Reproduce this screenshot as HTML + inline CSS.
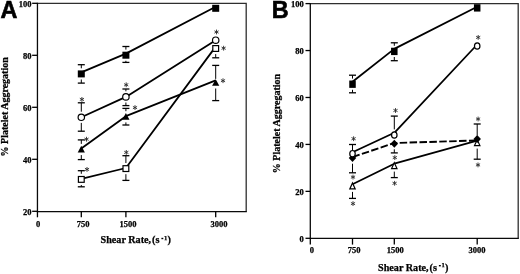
<!DOCTYPE html>
<html><head><meta charset="utf-8"><style>
html,body{margin:0;padding:0;background:#fff;}
body{width:520px;height:274px;overflow:hidden;}
svg{display:block;will-change:transform;}
</style></head><body>
<svg width="520" height="274" viewBox="0 0 520 274" shape-rendering="geometricPrecision">
<rect width="520" height="274" fill="#fff"/>
<path d="M37.45,3.30H246.20V211.60" fill="none" stroke="#2e2e2e" stroke-width="1.3" stroke-linejoin="miter"/>
<path d="M37.45,2.65V211.60H246.85" fill="none" stroke="#0a0a0a" stroke-width="1.3" stroke-linejoin="miter"/>
<line x1="32.15" y1="211.30" x2="37.45" y2="211.30" stroke="#000" stroke-width="1.3" stroke-linecap="butt"/>
<text x="31.55" y="215.20" font-family="Liberation Serif, serif" font-weight="bold" font-size="8.5" text-anchor="end" stroke="#000" stroke-width="0.25">20</text>
<line x1="32.15" y1="159.30" x2="37.45" y2="159.30" stroke="#000" stroke-width="1.3" stroke-linecap="butt"/>
<text x="31.55" y="163.20" font-family="Liberation Serif, serif" font-weight="bold" font-size="8.5" text-anchor="end" stroke="#000" stroke-width="0.25">40</text>
<line x1="32.15" y1="107.30" x2="37.45" y2="107.30" stroke="#000" stroke-width="1.3" stroke-linecap="butt"/>
<text x="31.55" y="111.20" font-family="Liberation Serif, serif" font-weight="bold" font-size="8.5" text-anchor="end" stroke="#000" stroke-width="0.25">60</text>
<line x1="32.15" y1="55.30" x2="37.45" y2="55.30" stroke="#000" stroke-width="1.3" stroke-linecap="butt"/>
<text x="31.55" y="59.20" font-family="Liberation Serif, serif" font-weight="bold" font-size="8.5" text-anchor="end" stroke="#000" stroke-width="0.25">80</text>
<line x1="32.15" y1="3.30" x2="37.45" y2="3.30" stroke="#000" stroke-width="1.3" stroke-linecap="butt"/>
<text x="31.55" y="6.50" font-family="Liberation Serif, serif" font-weight="bold" font-size="8.5" text-anchor="end" stroke="#000" stroke-width="0.25">100</text>
<line x1="37.45" y1="211.30" x2="37.45" y2="217.30" stroke="#000" stroke-width="1.3" stroke-linecap="butt"/>
<text x="38.20" y="226.90" font-family="Liberation Serif, serif" font-weight="bold" font-size="8.5" text-anchor="middle" stroke="#000" stroke-width="0.25">0</text>
<line x1="81.30" y1="211.30" x2="81.30" y2="217.30" stroke="#000" stroke-width="1.3" stroke-linecap="butt"/>
<text x="83.20" y="226.90" font-family="Liberation Serif, serif" font-weight="bold" font-size="8.5" text-anchor="middle" stroke="#000" stroke-width="0.25">750</text>
<line x1="125.90" y1="211.30" x2="125.90" y2="217.30" stroke="#000" stroke-width="1.3" stroke-linecap="butt"/>
<text x="128.00" y="226.90" font-family="Liberation Serif, serif" font-weight="bold" font-size="8.5" text-anchor="middle" stroke="#000" stroke-width="0.25">1500</text>
<line x1="215.70" y1="211.30" x2="215.70" y2="217.30" stroke="#000" stroke-width="1.3" stroke-linecap="butt"/>
<text x="218.90" y="226.90" font-family="Liberation Serif, serif" font-weight="bold" font-size="8.5" text-anchor="middle" stroke="#000" stroke-width="0.25">3000</text>
<text x="100.60" y="243.40" font-family="Liberation Serif, serif" font-weight="bold" stroke="#000" stroke-width="0.25" font-size="10.15">Shear Rate,</text>
<text x="152.10" y="243.40" font-family="Liberation Serif, serif" font-weight="bold" stroke="#000" stroke-width="0.25" font-size="10.3">(s</text>
<rect x="161.40" y="237.80" width="1.9" height="1.4" fill="#000"/>
<text x="164.10" y="239.70" font-family="Liberation Serif, serif" font-weight="bold" stroke="#000" stroke-width="0.25" font-size="6.6">1</text>
<text x="167.50" y="243.40" font-family="Liberation Serif, serif" font-weight="bold" stroke="#000" stroke-width="0.25" font-size="10.3">)</text>
<text transform="translate(8.3,106.85) rotate(-90)" font-family="Liberation Serif, serif" font-weight="bold" font-size="10.0" text-anchor="middle" stroke="#000" stroke-width="0.25">% Platelet Aggregation</text>
<text x="0.4" y="18.1" font-family="Liberation Sans, sans-serif" font-weight="bold" font-size="23.4" stroke="#000" stroke-width="0.6">A</text>
<polyline points="81.30,72.40 125.90,53.60 215.70,6.80" fill="none" stroke="#000" stroke-width="1.8" stroke-linejoin="round"/>
<polyline points="81.30,117.30 125.90,96.90 215.70,40.20" fill="none" stroke="#000" stroke-width="1.8" stroke-linejoin="round"/>
<polyline points="81.30,148.60 125.90,116.20 215.70,80.40" fill="none" stroke="#000" stroke-width="1.8" stroke-linejoin="round"/>
<polyline points="81.30,178.80 125.90,168.00 215.70,46.60" fill="none" stroke="#000" stroke-width="1.8" stroke-linejoin="round"/>
<line x1="81.30" y1="68.30" x2="81.30" y2="64.70" stroke="#000" stroke-width="1.0" stroke-linecap="butt"/>
<line x1="77.80" y1="64.70" x2="84.80" y2="64.70" stroke="#000" stroke-width="1.3" stroke-linecap="butt"/>
<line x1="81.30" y1="79.50" x2="81.30" y2="83.10" stroke="#000" stroke-width="1.0" stroke-linecap="butt"/>
<line x1="77.80" y1="83.10" x2="84.80" y2="83.10" stroke="#000" stroke-width="1.3" stroke-linecap="butt"/>
<line x1="125.90" y1="49.60" x2="125.90" y2="46.50" stroke="#000" stroke-width="1.0" stroke-linecap="butt"/>
<line x1="122.40" y1="46.50" x2="129.40" y2="46.50" stroke="#000" stroke-width="1.3" stroke-linecap="butt"/>
<line x1="125.90" y1="60.80" x2="125.90" y2="62.40" stroke="#000" stroke-width="1.0" stroke-linecap="butt"/>
<line x1="122.40" y1="62.40" x2="129.40" y2="62.40" stroke="#000" stroke-width="1.3" stroke-linecap="butt"/>
<line x1="81.30" y1="111.70" x2="81.30" y2="102.80" stroke="#000" stroke-width="1.0" stroke-linecap="butt"/>
<line x1="77.80" y1="102.80" x2="84.80" y2="102.80" stroke="#000" stroke-width="1.3" stroke-linecap="butt"/>
<line x1="81.30" y1="122.90" x2="81.30" y2="131.20" stroke="#000" stroke-width="1.0" stroke-linecap="butt"/>
<line x1="77.80" y1="131.20" x2="84.80" y2="131.20" stroke="#000" stroke-width="1.3" stroke-linecap="butt"/>
<line x1="125.90" y1="91.30" x2="125.90" y2="89.00" stroke="#000" stroke-width="1.0" stroke-linecap="butt"/>
<line x1="122.40" y1="89.00" x2="129.40" y2="89.00" stroke="#000" stroke-width="1.3" stroke-linecap="butt"/>
<line x1="125.90" y1="102.50" x2="125.90" y2="105.60" stroke="#000" stroke-width="1.0" stroke-linecap="butt"/>
<line x1="122.40" y1="105.60" x2="129.40" y2="105.60" stroke="#000" stroke-width="1.3" stroke-linecap="butt"/>
<line x1="81.30" y1="143.90" x2="81.30" y2="139.90" stroke="#000" stroke-width="1.0" stroke-linecap="butt"/>
<line x1="77.80" y1="139.90" x2="84.80" y2="139.90" stroke="#000" stroke-width="1.3" stroke-linecap="butt"/>
<line x1="81.30" y1="155.10" x2="81.30" y2="159.60" stroke="#000" stroke-width="1.0" stroke-linecap="butt"/>
<line x1="77.80" y1="159.60" x2="84.80" y2="159.60" stroke="#000" stroke-width="1.3" stroke-linecap="butt"/>
<line x1="125.90" y1="111.20" x2="125.90" y2="108.40" stroke="#000" stroke-width="1.0" stroke-linecap="butt"/>
<line x1="122.40" y1="108.40" x2="129.40" y2="108.40" stroke="#000" stroke-width="1.3" stroke-linecap="butt"/>
<line x1="125.90" y1="122.40" x2="125.90" y2="125.00" stroke="#000" stroke-width="1.0" stroke-linecap="butt"/>
<line x1="122.40" y1="125.00" x2="129.40" y2="125.00" stroke="#000" stroke-width="1.3" stroke-linecap="butt"/>
<line x1="215.70" y1="78.90" x2="215.70" y2="65.40" stroke="#000" stroke-width="1.0" stroke-linecap="butt"/>
<line x1="212.20" y1="65.40" x2="219.20" y2="65.40" stroke="#000" stroke-width="1.3" stroke-linecap="butt"/>
<line x1="215.70" y1="88.50" x2="215.70" y2="100.60" stroke="#000" stroke-width="1.0" stroke-linecap="butt"/>
<line x1="212.20" y1="100.60" x2="219.20" y2="100.60" stroke="#000" stroke-width="1.3" stroke-linecap="butt"/>
<line x1="81.30" y1="173.80" x2="81.30" y2="170.70" stroke="#000" stroke-width="1.0" stroke-linecap="butt"/>
<line x1="77.80" y1="170.70" x2="84.80" y2="170.70" stroke="#000" stroke-width="1.3" stroke-linecap="butt"/>
<line x1="81.30" y1="185.00" x2="81.30" y2="186.80" stroke="#000" stroke-width="1.0" stroke-linecap="butt"/>
<line x1="77.80" y1="186.80" x2="84.80" y2="186.80" stroke="#000" stroke-width="1.3" stroke-linecap="butt"/>
<line x1="125.90" y1="163.00" x2="125.90" y2="155.70" stroke="#000" stroke-width="1.0" stroke-linecap="butt"/>
<line x1="122.40" y1="155.70" x2="129.40" y2="155.70" stroke="#000" stroke-width="1.3" stroke-linecap="butt"/>
<line x1="125.90" y1="174.20" x2="125.90" y2="180.40" stroke="#000" stroke-width="1.0" stroke-linecap="butt"/>
<line x1="122.40" y1="180.40" x2="129.40" y2="180.40" stroke="#000" stroke-width="1.3" stroke-linecap="butt"/>
<line x1="215.70" y1="54.10" x2="215.70" y2="57.80" stroke="#000" stroke-width="1.0" stroke-linecap="butt"/>
<line x1="212.20" y1="57.80" x2="219.20" y2="57.80" stroke="#000" stroke-width="1.3" stroke-linecap="butt"/>
<rect x="77.80" y="70.40" width="7.00" height="7.00" fill="#000"/>
<rect x="122.40" y="51.70" width="7.00" height="7.00" fill="#000"/>
<rect x="212.20" y="4.80" width="7.00" height="7.00" fill="#000"/>
<ellipse cx="81.30" cy="117.30" rx="3.20" ry="3.20" fill="#fff" stroke="#000" stroke-width="1.2"/>
<ellipse cx="125.90" cy="96.90" rx="3.20" ry="3.20" fill="#fff" stroke="#000" stroke-width="1.2"/>
<ellipse cx="215.70" cy="40.20" rx="3.20" ry="3.20" fill="#fff" stroke="#000" stroke-width="1.2"/>
<polygon points="81.30,145.80 84.90,152.40 77.70,152.40" fill="#000"/>
<polygon points="125.90,113.10 129.50,119.70 122.30,119.70" fill="#000"/>
<polygon points="215.70,79.20 219.30,85.80 212.10,85.80" fill="#000"/>
<rect x="78.40" y="176.50" width="5.80" height="5.80" fill="#fff" stroke="#000" stroke-width="1.2"/>
<rect x="123.00" y="165.70" width="5.80" height="5.80" fill="#fff" stroke="#000" stroke-width="1.2"/>
<rect x="212.80" y="45.60" width="5.80" height="5.80" fill="#fff" stroke="#000" stroke-width="1.2"/>
<path d="M81.90,101.80L81.90,97.00M79.82,100.60L83.98,98.20M79.82,98.20L83.98,100.60" stroke="#2a2a2a" stroke-width="0.9" fill="none"/>
<path d="M86.50,141.60L86.50,136.80M84.42,140.40L88.58,138.00M84.42,138.00L88.58,140.40" stroke="#2a2a2a" stroke-width="0.9" fill="none"/>
<path d="M87.00,171.80L87.00,167.00M84.92,170.60L89.08,168.20M84.92,168.20L89.08,170.60" stroke="#2a2a2a" stroke-width="0.9" fill="none"/>
<path d="M126.20,87.20L126.20,82.40M124.12,86.00L128.28,83.60M124.12,83.60L128.28,86.00" stroke="#2a2a2a" stroke-width="0.9" fill="none"/>
<path d="M135.00,110.00L135.00,105.20M132.92,108.80L137.08,106.40M132.92,106.40L137.08,108.80" stroke="#2a2a2a" stroke-width="0.9" fill="none"/>
<path d="M126.30,154.80L126.30,150.00M124.22,153.60L128.38,151.20M124.22,151.20L128.38,153.60" stroke="#2a2a2a" stroke-width="0.9" fill="none"/>
<path d="M216.50,34.40L216.50,29.60M214.42,33.20L218.58,30.80M214.42,30.80L218.58,33.20" stroke="#2a2a2a" stroke-width="0.9" fill="none"/>
<path d="M223.60,50.60L223.60,45.80M221.52,49.40L225.68,47.00M221.52,47.00L225.68,49.40" stroke="#2a2a2a" stroke-width="0.9" fill="none"/>
<path d="M223.00,83.10L223.00,78.30M220.92,81.90L225.08,79.50M220.92,79.50L225.08,81.90" stroke="#2a2a2a" stroke-width="0.9" fill="none"/>
<path d="M310.30,3.60H518.20V238.30" fill="none" stroke="#2e2e2e" stroke-width="1.3" stroke-linejoin="miter"/>
<path d="M310.30,2.95V238.30H518.85" fill="none" stroke="#0a0a0a" stroke-width="1.3" stroke-linejoin="miter"/>
<line x1="305.50" y1="238.30" x2="310.30" y2="238.30" stroke="#000" stroke-width="1.3" stroke-linecap="butt"/>
<text x="303.80" y="242.20" font-family="Liberation Serif, serif" font-weight="bold" font-size="8.5" text-anchor="end" stroke="#000" stroke-width="0.25">0</text>
<line x1="305.50" y1="191.36" x2="310.30" y2="191.36" stroke="#000" stroke-width="1.3" stroke-linecap="butt"/>
<text x="303.80" y="195.26" font-family="Liberation Serif, serif" font-weight="bold" font-size="8.5" text-anchor="end" stroke="#000" stroke-width="0.25">20</text>
<line x1="305.50" y1="144.42" x2="310.30" y2="144.42" stroke="#000" stroke-width="1.3" stroke-linecap="butt"/>
<text x="303.80" y="148.32" font-family="Liberation Serif, serif" font-weight="bold" font-size="8.5" text-anchor="end" stroke="#000" stroke-width="0.25">40</text>
<line x1="305.50" y1="97.48" x2="310.30" y2="97.48" stroke="#000" stroke-width="1.3" stroke-linecap="butt"/>
<text x="303.80" y="101.38" font-family="Liberation Serif, serif" font-weight="bold" font-size="8.5" text-anchor="end" stroke="#000" stroke-width="0.25">60</text>
<line x1="305.50" y1="50.54" x2="310.30" y2="50.54" stroke="#000" stroke-width="1.3" stroke-linecap="butt"/>
<text x="303.80" y="54.44" font-family="Liberation Serif, serif" font-weight="bold" font-size="8.5" text-anchor="end" stroke="#000" stroke-width="0.25">80</text>
<line x1="305.50" y1="3.60" x2="310.30" y2="3.60" stroke="#000" stroke-width="1.3" stroke-linecap="butt"/>
<text x="303.80" y="6.80" font-family="Liberation Serif, serif" font-weight="bold" font-size="8.5" text-anchor="end" stroke="#000" stroke-width="0.25">100</text>
<line x1="310.30" y1="238.30" x2="310.30" y2="244.60" stroke="#000" stroke-width="1.3" stroke-linecap="butt"/>
<text x="311.80" y="253.00" font-family="Liberation Serif, serif" font-weight="bold" font-size="8.5" text-anchor="middle" stroke="#000" stroke-width="0.25">0</text>
<line x1="352.50" y1="238.30" x2="352.50" y2="244.60" stroke="#000" stroke-width="1.3" stroke-linecap="butt"/>
<text x="354.00" y="253.00" font-family="Liberation Serif, serif" font-weight="bold" font-size="8.5" text-anchor="middle" stroke="#000" stroke-width="0.25">750</text>
<line x1="394.30" y1="238.30" x2="394.30" y2="244.60" stroke="#000" stroke-width="1.3" stroke-linecap="butt"/>
<text x="395.30" y="253.00" font-family="Liberation Serif, serif" font-weight="bold" font-size="8.5" text-anchor="middle" stroke="#000" stroke-width="0.25">1500</text>
<line x1="477.20" y1="238.30" x2="477.20" y2="244.60" stroke="#000" stroke-width="1.3" stroke-linecap="butt"/>
<text x="476.90" y="253.00" font-family="Liberation Serif, serif" font-weight="bold" font-size="8.5" text-anchor="middle" stroke="#000" stroke-width="0.25">3000</text>
<text x="378.10" y="270.60" font-family="Liberation Serif, serif" font-weight="bold" stroke="#000" stroke-width="0.25" font-size="10.15">Shear Rate,</text>
<text x="429.60" y="270.60" font-family="Liberation Serif, serif" font-weight="bold" stroke="#000" stroke-width="0.25" font-size="10.3">(s</text>
<rect x="438.90" y="265.00" width="1.9" height="1.4" fill="#000"/>
<text x="441.60" y="266.90" font-family="Liberation Serif, serif" font-weight="bold" stroke="#000" stroke-width="0.25" font-size="6.6">1</text>
<text x="445.00" y="270.60" font-family="Liberation Serif, serif" font-weight="bold" stroke="#000" stroke-width="0.25" font-size="10.3">)</text>
<text transform="translate(279.9,123.5) rotate(-90)" font-family="Liberation Serif, serif" font-weight="bold" font-size="10.0" text-anchor="middle" stroke="#000" stroke-width="0.25">% Platelet Aggregation</text>
<text x="271.8" y="18.4" font-family="Liberation Sans, sans-serif" font-weight="bold" font-size="23.4" stroke="#000" stroke-width="0.6">B</text>
<polyline points="352.50,81.80 394.30,48.90 477.20,6.70" fill="none" stroke="#000" stroke-width="1.8" stroke-linejoin="round"/>
<polyline points="352.50,152.20 394.30,132.80 477.20,44.50" fill="none" stroke="#000" stroke-width="1.8" stroke-linejoin="round"/>
<polyline points="352.50,184.30 394.30,163.70 477.20,140.60" fill="none" stroke="#000" stroke-width="1.8" stroke-linejoin="round"/>
<polyline points="352.50,157.10 394.30,143.00 477.20,140.50" fill="none" stroke="#000" stroke-width="1.9" stroke-linejoin="round" stroke-dasharray="7.5,2.4"/>
<line x1="352.50" y1="78.60" x2="352.50" y2="75.20" stroke="#000" stroke-width="1.0" stroke-linecap="butt"/>
<line x1="349.00" y1="75.20" x2="356.00" y2="75.20" stroke="#000" stroke-width="1.3" stroke-linecap="butt"/>
<line x1="352.50" y1="89.80" x2="352.50" y2="92.80" stroke="#000" stroke-width="1.0" stroke-linecap="butt"/>
<line x1="349.00" y1="92.80" x2="356.00" y2="92.80" stroke="#000" stroke-width="1.3" stroke-linecap="butt"/>
<line x1="394.30" y1="45.80" x2="394.30" y2="42.80" stroke="#000" stroke-width="1.0" stroke-linecap="butt"/>
<line x1="390.80" y1="42.80" x2="397.80" y2="42.80" stroke="#000" stroke-width="1.3" stroke-linecap="butt"/>
<line x1="394.30" y1="57.00" x2="394.30" y2="60.70" stroke="#000" stroke-width="1.0" stroke-linecap="butt"/>
<line x1="390.80" y1="60.70" x2="397.80" y2="60.70" stroke="#000" stroke-width="1.3" stroke-linecap="butt"/>
<line x1="352.50" y1="150.20" x2="352.50" y2="144.50" stroke="#000" stroke-width="1.0" stroke-linecap="butt"/>
<line x1="349.00" y1="144.50" x2="356.00" y2="144.50" stroke="#000" stroke-width="1.3" stroke-linecap="butt"/>
<line x1="352.50" y1="163.70" x2="352.50" y2="172.80" stroke="#000" stroke-width="1.0" stroke-linecap="butt"/>
<line x1="349.00" y1="172.80" x2="356.00" y2="172.80" stroke="#000" stroke-width="1.3" stroke-linecap="butt"/>
<line x1="352.50" y1="191.90" x2="352.50" y2="198.40" stroke="#000" stroke-width="1.0" stroke-linecap="butt"/>
<line x1="349.00" y1="198.40" x2="356.00" y2="198.40" stroke="#000" stroke-width="1.3" stroke-linecap="butt"/>
<line x1="394.30" y1="129.40" x2="394.30" y2="116.10" stroke="#000" stroke-width="1.0" stroke-linecap="butt"/>
<line x1="390.80" y1="116.10" x2="397.80" y2="116.10" stroke="#000" stroke-width="1.3" stroke-linecap="butt"/>
<line x1="394.30" y1="149.30" x2="394.30" y2="152.90" stroke="#000" stroke-width="1.0" stroke-linecap="butt"/>
<line x1="390.80" y1="152.90" x2="397.80" y2="152.90" stroke="#000" stroke-width="1.3" stroke-linecap="butt"/>
<line x1="394.30" y1="171.60" x2="394.30" y2="177.60" stroke="#000" stroke-width="1.0" stroke-linecap="butt"/>
<line x1="390.80" y1="177.60" x2="397.80" y2="177.60" stroke="#000" stroke-width="1.3" stroke-linecap="butt"/>
<line x1="477.20" y1="135.50" x2="477.20" y2="124.00" stroke="#000" stroke-width="1.0" stroke-linecap="butt"/>
<line x1="473.70" y1="124.00" x2="480.70" y2="124.00" stroke="#000" stroke-width="1.3" stroke-linecap="butt"/>
<line x1="477.20" y1="148.60" x2="477.20" y2="159.20" stroke="#000" stroke-width="1.0" stroke-linecap="butt"/>
<line x1="473.70" y1="159.20" x2="480.70" y2="159.20" stroke="#000" stroke-width="1.3" stroke-linecap="butt"/>
<rect x="349.25" y="80.53" width="6.51" height="7.35" fill="#000"/>
<rect x="391.05" y="47.73" width="6.51" height="7.35" fill="#000"/>
<rect x="473.94" y="4.22" width="6.51" height="7.35" fill="#000"/>
<polygon points="352.50,183.05 355.20,188.93 349.80,188.93" fill="#fff" stroke="#000" stroke-width="1.2" stroke-linejoin="miter"/>
<polygon points="394.30,162.75 397.00,168.62 391.60,168.62" fill="#fff" stroke="#000" stroke-width="1.2" stroke-linejoin="miter"/>
<polygon points="477.20,139.75 479.90,145.62 474.50,145.62" fill="#fff" stroke="#000" stroke-width="1.2" stroke-linejoin="miter"/>
<polygon points="352.50,154.12 356.25,158.10 352.50,162.07 348.75,158.10" fill="#000"/>
<polygon points="394.30,139.72 398.05,143.70 394.30,147.67 390.55,143.70" fill="#000"/>
<polygon points="477.20,135.03 480.95,139.00 477.20,142.97 473.45,139.00" fill="#000"/>
<ellipse cx="352.50" cy="153.70" rx="2.74" ry="3.20" fill="#fff" stroke="#000" stroke-width="1.2"/>
<ellipse cx="394.30" cy="135.00" rx="2.74" ry="3.20" fill="#fff" stroke="#000" stroke-width="1.2"/>
<ellipse cx="477.20" cy="46.00" rx="2.74" ry="3.20" fill="#fff" stroke="#000" stroke-width="1.2"/>
<path d="M353.60,141.10L353.60,136.30M351.52,139.90L355.68,137.50M351.52,137.50L355.68,139.90" stroke="#2a2a2a" stroke-width="0.9" fill="none"/>
<path d="M353.00,179.50L353.00,174.70M350.92,178.30L355.08,175.90M350.92,175.90L355.08,178.30" stroke="#2a2a2a" stroke-width="0.9" fill="none"/>
<path d="M353.00,206.00L353.00,201.20M350.92,204.80L355.08,202.40M350.92,202.40L355.08,204.80" stroke="#2a2a2a" stroke-width="0.9" fill="none"/>
<path d="M395.50,112.90L395.50,108.10M393.42,111.70L397.58,109.30M393.42,109.30L397.58,111.70" stroke="#2a2a2a" stroke-width="0.9" fill="none"/>
<path d="M394.80,160.00L394.80,155.20M392.72,158.80L396.88,156.40M392.72,156.40L396.88,158.80" stroke="#2a2a2a" stroke-width="0.9" fill="none"/>
<path d="M394.60,185.70L394.60,180.90M392.52,184.50L396.68,182.10M392.52,182.10L396.68,184.50" stroke="#2a2a2a" stroke-width="0.9" fill="none"/>
<path d="M478.20,39.80L478.20,35.00M476.12,38.60L480.28,36.20M476.12,36.20L480.28,38.60" stroke="#2a2a2a" stroke-width="0.9" fill="none"/>
<path d="M478.10,121.40L478.10,116.60M476.02,120.20L480.18,117.80M476.02,117.80L480.18,120.20" stroke="#2a2a2a" stroke-width="0.9" fill="none"/>
<path d="M478.00,167.30L478.00,162.50M475.92,166.10L480.08,163.70M475.92,163.70L480.08,166.10" stroke="#2a2a2a" stroke-width="0.9" fill="none"/>
</svg>
</body></html>
